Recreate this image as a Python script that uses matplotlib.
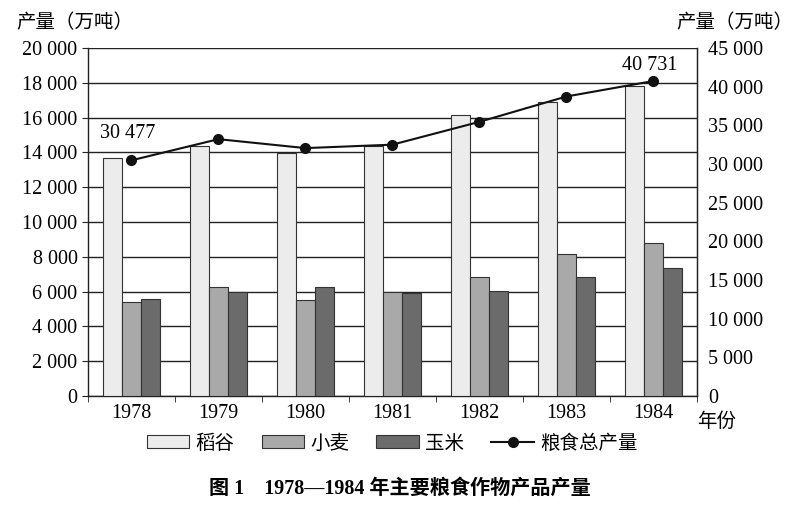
import numpy as np
import matplotlib
matplotlib.use("Agg")
import matplotlib.pyplot as plt
from matplotlib.ticker import FuncFormatter, FixedLocator

plt.rcParams['font.family'] = ['Liberation Serif', 'Noto Sans CJK SC']

# data (万吨)
years = ['1978', '1979', '1980', '1981', '1982', '1983', '1984']
rice = [13693, 14375, 13991, 14396, 16160, 16887, 17826]
wheat = [5384, 6273, 5521, 5964, 6847, 8139, 8782]
corn = [5595, 6004, 6260, 5921, 6056, 6821, 7341]
total = [30477, 33212, 32056, 32502, 35450, 38728, 40731]

bar_colors = ['#ececec', '#a9a9a9', '#6b6b6b']
edge = '#333333'


def spaced(v, pos=None):
    return f"{int(v):,}".replace(',', ' ')


fig = plt.figure(figsize=(8.0, 5.14), dpi=100)
ax = fig.add_axes([0.110, 0.2296, 0.761, 0.677])

x = np.arange(len(years))
w = 0.218
ax.bar(x - w, rice, w, color=bar_colors[0], edgecolor=edge, linewidth=0.8, zorder=3, label='稻谷')
ax.bar(x, wheat, w, color=bar_colors[1], edgecolor=edge, linewidth=0.8, zorder=3, label='小麦')
ax.bar(x + w, corn, w, color=bar_colors[2], edgecolor=edge, linewidth=0.8, zorder=3, label='玉米')

ax.set_xlim(-0.5, len(years) - 0.5)
ax.set_ylim(0, 20000)
ax.set_yticks(np.arange(0, 20001, 2000))
ax.yaxis.set_major_formatter(FuncFormatter(spaced))
ax.grid(axis='y', color='#222222', linewidth=1.0, zorder=0)
ax.set_axisbelow(True)
ax.set_xticks(x)
ax.set_xticklabels(years)
ax.xaxis.set_minor_locator(FixedLocator(np.arange(-0.5, len(years), 1.0)))
ax.tick_params(axis='x', which='major', length=0, pad=6, labelsize=14.5)
ax.tick_params(axis='x', which='minor', length=4, color='#222222')
ax.tick_params(axis='y', length=4, labelsize=14.5, color='#222222')
ax.spines['top'].set_visible(False)
for s in ['left', 'bottom', 'right']:
    ax.spines[s].set_color('#222222')
    ax.spines[s].set_linewidth(1.0)

ax2 = ax.twinx()
ax2.plot(x, total, color='#111111', linewidth=1.5, marker='o', markersize=7, zorder=5, label='粮食总产量')
ax2.set_ylim(0, 45000)
ax2.set_yticks(np.arange(0, 45001, 5000))
ax2.yaxis.set_major_formatter(FuncFormatter(spaced))
ax2.tick_params(axis='y', length=0, pad=8, labelsize=14.5)
ax2.spines['top'].set_visible(False)
ax2.spines['left'].set_visible(False)
ax2.spines['bottom'].set_visible(False)
ax2.spines['right'].set_color('#222222')

ax2.annotate(spaced(total[0]), (x[0], total[0]), xytext=(-3, 19), textcoords='offset points',
             fontsize=14.5, ha='center', va='center')
ax2.annotate(spaced(total[-1]), (x[-1], total[-1]), xytext=(-2.5, 11), textcoords='offset points',
             fontsize=14.5, ha='center', va='center')

fig.text(0.02, 0.955, '产量（万吨）', fontsize=14, family='Noto Sans CJK SC', va='center')
fig.text(0.845, 0.955, '产量（万吨）', fontsize=14, family='Noto Sans CJK SC', va='center')
fig.text(0.872, 0.18, '年份', fontsize=14, family='Noto Sans CJK SC', va='center')

h1, l1 = ax.get_legend_handles_labels()
h2, l2 = ax2.get_legend_handles_labels()
fig.legend(h1 + h2, l1 + l2, loc='center', bbox_to_anchor=(0.49, 0.138), ncol=4, frameon=False,
           handlelength=2.2, handleheight=0.65, columnspacing=1.4, handletextpad=0.3,
           prop={'family': 'Noto Sans CJK SC', 'size': 14})

fig.text(0.5, 0.05, '图 1　1978—1984 年主要粮食作物产品产量', fontsize=14.5, fontweight='bold',
         ha='center', va='center')

fig.savefig('out.png', dpi=100)
